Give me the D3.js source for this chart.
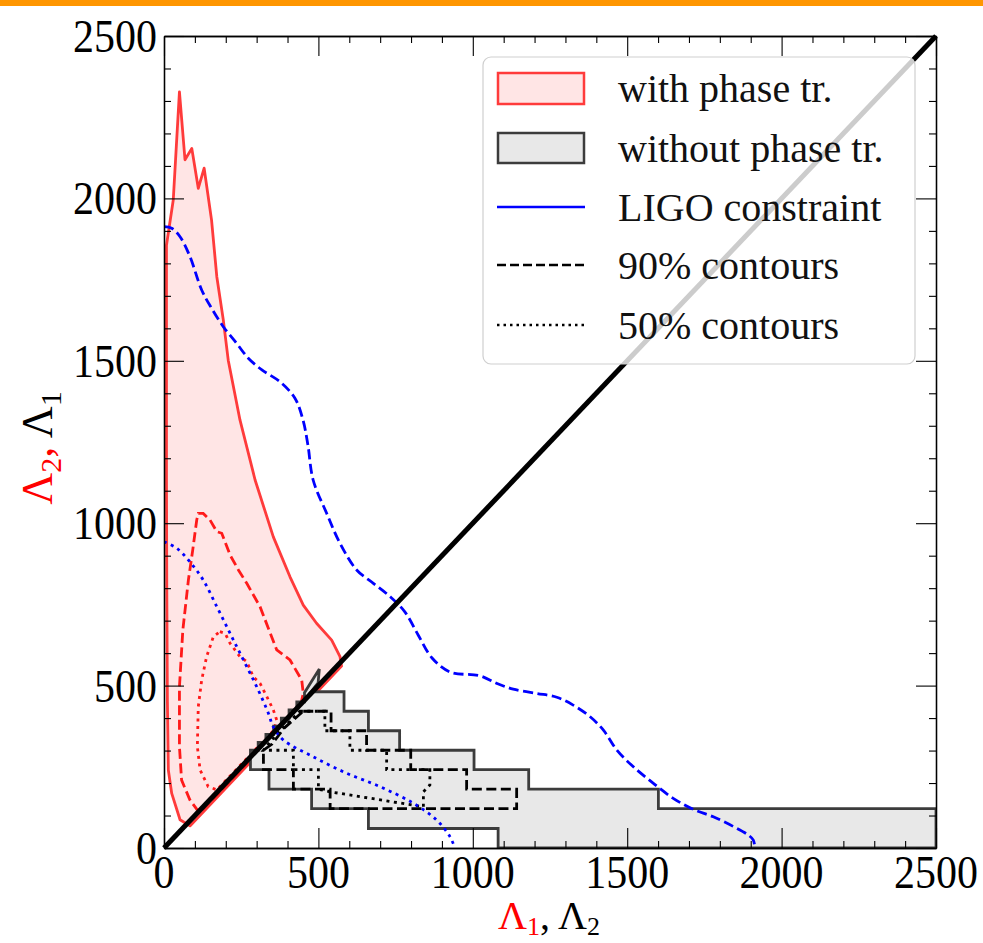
<!DOCTYPE html>
<html><head><meta charset="utf-8">
<script src="https://cdn.jsdelivr.net/npm/d3@7"></script>
<style>body{margin:0;background:#fff}svg{display:block}</style>
</head><body>
<svg id="c" width="983" height="943"></svg>
<script>
// ---------- data ----------
const xTicks = [0, 500, 1000, 1500, 2000, 2500];
const yTicks = [0, 500, 1000, 1500, 2000, 2500];
const tickLabels = ["0", "500", "1000", "1500", "2000", "2500"];
const minorTicks = [100,200,300,400,600,700,800,900,1100,1200,1300,1400,1600,1700,1800,1900,2100,2200,2300,2400];

const legendLabels = ["with phase tr.", "without phase tr.", "LIGO constraint", "90% contours", "50% contours"];

// with phase transition: outer region (Λ2 vs Λ1)
const redOuter = [[8,1856],[30,1995],[50,2328],[68,2119],[90,2154],[111,2031],[130,2093],[154,1933],[171,1759],
  [192,1626],[208,1502],[246,1318],[295,1133],[354,958],[408,835],[451,748],[494,692],[543,640],[570,589],
  [575,560],[84,68],[52,87],[25,168],[14,240],[11,450],[9,800],[8,1133],[8,1500]];
// with phase transition: 90% and 50% contours
const red90 = [[111,1030],[127,1030],[149,1010],[171,974],[187,969],[214,902],[241,856],[268,815],[311,743],
  [365,610],[408,579],[446,517],[451,476],[440,430],[115,108],[84,148],[57,209],[50,312],[50,496],[61,671],
  [79,825],[93,917],[106,1010]];
const red50 = [[181,666],[198,661],[214,630],[246,589],[268,574],[289,527],[311,507],[333,466],[354,425],
  [365,394],[355,362],[171,179],[143,189],[117,240],[108,312],[111,435],[122,517],[138,589],[160,651]];

// without phase transition: region (stepped histogram contour)
const grayRegion = [[280,241],[280,301],[305,301],[305,325],[330,325],[330,350],[355,350],[355,375],[380,375],
  [380,400],[405,400],[405,425],[430,425],[430,450],[455,450],[455,478],[503,551],[499,508],[476,481],
  [583,481],[583,421],[662,421],[662,361],[763,361],[763,301],[1004,301],[1004,241],[1181,241],[1181,181],
  [1601,181],[1601,121],[2500,121],[2500,0],[1082,0],[1082,60],[662,60],[662,121],[478,121],[478,181],
  [340,181],[340,241]];
const black90 = [[451,421],[541,421],[541,361],[656,361],[656,301],[799,301],[799,241],[980,241],[980,181],
  [1142,181],[1142,121],[538,121],[538,181],[419,181],[419,241],[322,241],[322,301],[350,320],[390,370]];
const black50 = [[440,421],[521,421],[521,361],[602,361],[602,301],[721,301],[721,241],[861,241],[861,194],
  [840,173],[840,127],[538,173],[500,181],[500,241],[419,241],[419,301],[322,301],[360,345]];

// LIGO constraint
const ligo90 = [[0,1913],[25,1908],[52,1882],[84,1821],[122,1718],[154,1662],[192,1605],[235,1554],[273,1508],
  [317,1472],[376,1435],[424,1385],[450,1318],[466,1241],[483,1133],[527,1030],[570,938],[624,856],[678,815],
  [732,774],[780,727],[823,656],[868,585],[926,542],[1023,530],[1077,507],[1131,489],[1207,476],[1272,464],
  [1325,440],[1380,404],[1423,363],[1466,302],[1520,250],[1585,199],[1649,153],[1714,119],[1779,96],
  [1844,66],[1892,40],[1908,25],[1914,0]];
const ligo50 = [[0,943],[41,923],[84,881],[127,825],[171,743],[214,661],[257,579],[300,497],[338,415],
  [354,373],[386,333],[483,281],[592,230],[699,189],[807,138],[883,86],[926,35],[942,0]];

const diagonal = [[0,0],[2500,2500]];

// ---------- drawing ----------
const svg = d3.select("#c");
const FONT = "'Liberation Serif', 'Times New Roman', serif";
const LW = 2.8, DASH = "10,4.5", DOT = "3,4.5";
svg.append("rect").attr("x",0).attr("y",0).attr("width",983).attr("height",943).attr("fill","#fff");
svg.append("rect").attr("x",0).attr("y",0).attr("width",983).attr("height",6).attr("fill","#ff9600");

const x = d3.scaleLinear().domain([0,2500]).range([164,936]);
const y = d3.scaleLinear().domain([0,2500]).range([848,36]);

const poly = d3.line().x(d=>x(d[0])).y(d=>y(d[1])).curve(d3.curveLinearClosed);
const smooth = d3.line().x(d=>x(d[0])).y(d=>y(d[1])).curve(d3.curveCatmullRom.alpha(0.5));

const plot = svg.append("g");
plot.append("defs").append("clipPath").attr("id","clip").append("rect")
  .attr("x",x(0)).attr("y",y(2500)).attr("width",x(2500)-x(0)).attr("height",y(0)-y(2500));
const g = plot.append("g").attr("clip-path","url(#clip)");

// red region
g.append("path").attr("d",poly(redOuter)).attr("fill","#ffe5e5").attr("stroke","#ff3b3b").attr("stroke-width",LW).attr("stroke-linejoin","round");
g.append("path").attr("d",poly(red90)).attr("fill","none").attr("stroke","#ff1a1a").attr("stroke-width",LW).attr("stroke-dasharray",DASH);
g.append("path").attr("d",poly(red50)).attr("fill","none").attr("stroke","#ff1a1a").attr("stroke-width",LW).attr("stroke-dasharray",DOT);

// gray region
g.append("path").attr("d",poly(grayRegion)).attr("fill","#e8e8e8").attr("stroke","#3c3c3c").attr("stroke-width",LW);
g.append("path").attr("d",poly(black90)).attr("fill","none").attr("stroke","#000").attr("stroke-width",LW).attr("stroke-dasharray",DASH);
g.append("path").attr("d",poly(black50)).attr("fill","none").attr("stroke","#000").attr("stroke-width",LW).attr("stroke-dasharray",DOT);

// LIGO
g.append("path").attr("d",smooth(ligo90)).attr("fill","none").attr("stroke","#0000ff").attr("stroke-width",LW).attr("stroke-dasharray",DASH);
g.append("path").attr("d",smooth(ligo50)).attr("fill","none").attr("stroke","#0000ff").attr("stroke-width",LW).attr("stroke-dasharray",DOT);

// diagonal
plot.append("path").attr("d",d3.line().x(d=>x(d[0])).y(d=>y(d[1]))(diagonal)).attr("stroke","#000").attr("stroke-width",5).attr("fill","none");

// axes with inward ticks on all sides
function styleAxis(sel){
  sel.select(".domain").attr("stroke","#000").attr("stroke-width",1.3);
  sel.selectAll(".tick line").attr("stroke","#000").attr("stroke-width",1.1);
}
const axes = svg.append("g");
[[d3.axisBottom(x), `translate(0,${y(0)})`],[d3.axisTop(x), `translate(0,${y(2500)})`]].forEach(([ax,t])=>{
  axes.append("g").attr("transform",t).call(ax.tickValues(xTicks).tickSize(-20).tickSizeOuter(0).tickFormat("")).call(styleAxis);
  axes.append("g").attr("transform",t).call(ax.tickValues(minorTicks).tickSize(-7).tickSizeOuter(0).tickFormat("")).call(styleAxis);
});
[[d3.axisLeft(y), `translate(${x(0)},0)`],[d3.axisRight(y), `translate(${x(2500)},0)`]].forEach(([ax,t])=>{
  axes.append("g").attr("transform",t).call(ax.tickValues(yTicks).tickSize(-20).tickSizeOuter(0).tickFormat("")).call(styleAxis);
  axes.append("g").attr("transform",t).call(ax.tickValues(minorTicks).tickSize(-7).tickSizeOuter(0).tickFormat("")).call(styleAxis);
});

// tick labels
const SY = 1.12;
xTicks.forEach((v,i)=>{
  svg.append("text").attr("transform",`translate(${x(v)},${y(0)+40}) scale(1,${SY})`)
    .attr("text-anchor","middle").attr("font-family",FONT).attr("font-size",42).attr("fill","#000").text(tickLabels[i]);
});
yTicks.forEach((v,i)=>{
  svg.append("text").attr("transform",`translate(${x(0)-7},${y(v)+16}) scale(1,${SY})`)
    .attr("text-anchor","end").attr("font-family",FONT).attr("font-size",42).attr("fill","#000").text(tickLabels[i]);
});

// axis titles
const xt = svg.append("text").attr("x",549).attr("y",929).attr("text-anchor","middle")
  .attr("font-family",FONT).attr("font-size",40);
xt.append("tspan").attr("fill","#ff0000").text("Λ");
xt.append("tspan").attr("fill","#ff0000").attr("font-size",26).attr("dy",6).text("1");
xt.append("tspan").attr("fill","#000").attr("dy",-6).text(", Λ");
xt.append("tspan").attr("fill","#000").attr("font-size",26).attr("dy",6).text("2");

const yt = svg.append("text").attr("transform","translate(52,448) rotate(-90)").attr("text-anchor","middle")
  .attr("font-family",FONT).attr("font-size",44);
yt.append("tspan").attr("fill","#ff0000").text("Λ");
yt.append("tspan").attr("fill","#ff0000").attr("font-size",30).attr("dy",9).text("2");
yt.append("tspan").attr("fill","#ff0000").attr("dy",-9).text(",");
yt.append("tspan").attr("fill","#000").text("  Λ");
yt.append("tspan").attr("fill","#000").attr("font-size",30).attr("dy",9).text("1");

// legend
const lg = svg.append("g");
lg.append("rect").attr("x",483).attr("y",57).attr("width",432).attr("height",307).attr("rx",8)
  .attr("fill","#fff").attr("fill-opacity",0.8).attr("stroke","#cfcfcf").attr("stroke-width",1.2);
const rowY = [88, 148, 207, 265, 325];
lg.append("rect").attr("x",498).attr("y",73).attr("width",86).attr("height",31).attr("fill","#ffe5e5").attr("stroke","#ff3b3b").attr("stroke-width",2.5);
lg.append("rect").attr("x",498).attr("y",133).attr("width",86).attr("height",30).attr("fill","#e8e8e8").attr("stroke","#3c3c3c").attr("stroke-width",2.5);
lg.append("line").attr("x1",497).attr("x2",585).attr("y1",rowY[2]).attr("y2",rowY[2]).attr("stroke","#0000ff").attr("stroke-width",2.5);
lg.append("line").attr("x1",497).attr("x2",585).attr("y1",rowY[3]).attr("y2",rowY[3]).attr("stroke","#000").attr("stroke-width",2.5).attr("stroke-dasharray","9,4");
lg.append("line").attr("x1",497).attr("x2",585).attr("y1",rowY[4]).attr("y2",rowY[4]).attr("stroke","#000").attr("stroke-width",2.5).attr("stroke-dasharray","2.5,4");
legendLabels.forEach((t,i)=>{
  lg.append("text").attr("x",618).attr("y",rowY[i]+14).attr("font-family",FONT).attr("font-size",40).attr("fill","#111").text(t);
});
</script>
</body></html>
